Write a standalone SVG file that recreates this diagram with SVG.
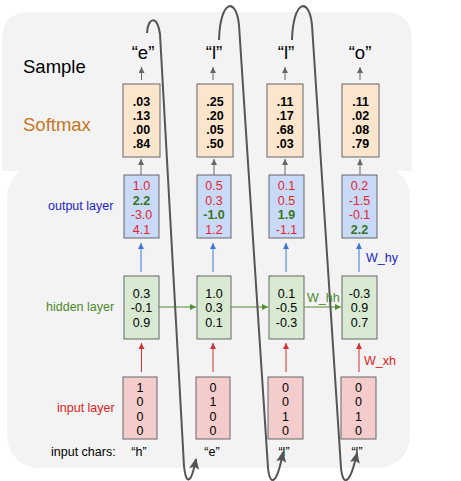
<svg xmlns="http://www.w3.org/2000/svg" width="461" height="481" viewBox="0 0 461 481">
<style>
  .t{font-family:"Liberation Sans",Arial,sans-serif}
  .lbl{font-size:12.5px}
  .big{font-size:18.5px;fill:#000}
  .val{font-size:12.5px;text-anchor:middle;fill:#000}
  .b{font-weight:bold}
  .red{fill:#e3262b}
  .grn{fill:#38761d;font-weight:bold}
  .sm{fill:#fce5cd;stroke:#666;stroke-width:1}
  .out{fill:#c9daf8;stroke:#666;stroke-width:1}
  .hid{fill:#d9ead3;stroke:#666;stroke-width:1}
  .inp{fill:#f4cccc;stroke:#666;stroke-width:1}
  .ga{stroke:#666;stroke-width:1;fill:none;marker-end:url(#mg)}
  .ba{stroke:#3c78d8;stroke-width:1;fill:none;marker-end:url(#mb)}
  .gr{stroke:#4e8f32;stroke-width:1;fill:none;marker-end:url(#mgr)}
  .ra{stroke:#d43333;stroke-width:1;fill:none;marker-end:url(#mr)}
  .loop{stroke:#555;stroke-width:2;fill:none;marker-end:url(#ml)}
</style>
<defs>
  <marker id="mg" markerWidth="8" markerHeight="8" refX="6" refY="3" orient="auto" markerUnits="userSpaceOnUse"><path d="M0,0 L6,3 L0,6 z" fill="#666"/></marker>
  <marker id="mb" markerWidth="8" markerHeight="8" refX="6" refY="3" orient="auto" markerUnits="userSpaceOnUse"><path d="M0,0 L6,3 L0,6 z" fill="#3c78d8"/></marker>
  <marker id="mgr" markerWidth="8" markerHeight="8" refX="6" refY="3" orient="auto" markerUnits="userSpaceOnUse"><path d="M0,0 L6,3 L0,6 z" fill="#4e8f32"/></marker>
  <marker id="mr" markerWidth="8" markerHeight="8" refX="6" refY="3" orient="auto" markerUnits="userSpaceOnUse"><path d="M0,0 L6,3 L0,6 z" fill="#d43333"/></marker>
  <marker id="ml" markerWidth="14" markerHeight="12" refX="10" refY="5" orient="auto" markerUnits="userSpaceOnUse"><path d="M0,0 L11,5 L0,10 L2,5 z" fill="#555"/></marker>
</defs>

<g id="background">
  <path d="M2,40 Q2,12 30,12 L384,12 Q412,12 412,40 L412,171 L2,171 z" fill="#f3f3f3"/>
  <rect x="7" y="165" width="403" height="303" rx="32" fill="#f3f3f3"/>
</g>

<g id="row-labels" class="t">
  <text x="23" y="73" class="big">Sample</text>
  <text x="23" y="131" class="big" style="fill:#c5761f">Softmax</text>
  <text x="48" y="210" class="lbl" fill="#2222cc">output layer</text>
  <text x="46" y="311" class="lbl" fill="#4b8b2b">hidden layer</text>
  <text x="57" y="412" class="lbl" fill="#e02222">input layer</text>
  <text x="51" y="456" class="lbl" fill="#000">input chars:</text>
</g>

<g id="samples" class="t" font-size="18.5" text-anchor="middle">
  <text x="143" y="59">“e”</text>
  <text x="214" y="59">“l”</text>
  <text x="286" y="59">“l”</text>
  <text x="360" y="59">“o”</text>
</g>

<g id="input-chars" class="t" font-size="12.5" text-anchor="middle">
  <text x="139" y="456">“h”</text>
  <text x="212" y="456">“e”</text>
  <text x="284" y="456">“l”</text>
  <text x="357" y="456">“l”</text>
</g>

<g id="softmax-1" class="t"><rect class="sm" x="123" y="84" width="37" height="73"/>
  <text class="val b" x="141.5" y="106">.03</text><text class="val b" x="141.5" y="120">.13</text><text class="val b" x="141.5" y="134">.00</text><text class="val b" x="141.5" y="148">.84</text></g>
<g id="softmax-2" class="t"><rect class="sm" x="197" y="84" width="36" height="73"/>
  <text class="val b" x="215" y="106">.25</text><text class="val b" x="215" y="120">.20</text><text class="val b" x="215" y="134">.05</text><text class="val b" x="215" y="148">.50</text></g>
<g id="softmax-3" class="t"><rect class="sm" x="267" y="84" width="36" height="73"/>
  <text class="val b" x="285" y="106">.11</text><text class="val b" x="285" y="120">.17</text><text class="val b" x="285" y="134">.68</text><text class="val b" x="285" y="148">.03</text></g>
<g id="softmax-4" class="t"><rect class="sm" x="342" y="84" width="37" height="73"/>
  <text class="val b" x="360.5" y="106">.11</text><text class="val b" x="360.5" y="120">.02</text><text class="val b" x="360.5" y="134">.08</text><text class="val b" x="360.5" y="148">.79</text></g>

<g id="output-1" class="t"><rect class="out" x="124" y="175" width="35" height="63"/>
  <text class="val red" x="141.5" y="190">1.0</text><text class="val grn" x="141.5" y="205">2.2</text><text class="val red" x="141.5" y="219">-3.0</text><text class="val red" x="141.5" y="234">4.1</text></g>
<g id="output-2" class="t"><rect class="out" x="197" y="175" width="34" height="63"/>
  <text class="val red" x="214" y="190">0.5</text><text class="val red" x="214" y="205">0.3</text><text class="val grn" x="214" y="219">-1.0</text><text class="val red" x="214" y="234">1.2</text></g>
<g id="output-3" class="t"><rect class="out" x="269" y="175" width="35" height="63"/>
  <text class="val red" x="286.5" y="190">0.1</text><text class="val red" x="286.5" y="205">0.5</text><text class="val grn" x="286.5" y="219">1.9</text><text class="val red" x="286.5" y="234">-1.1</text></g>
<g id="output-4" class="t"><rect class="out" x="342" y="175" width="35" height="63"/>
  <text class="val red" x="359.5" y="190">0.2</text><text class="val red" x="359.5" y="205">-1.5</text><text class="val red" x="359.5" y="219">-0.1</text><text class="val grn" x="359.5" y="234">2.2</text></g>

<g id="hidden-1" class="t"><rect class="hid" x="124" y="276" width="35" height="63"/>
  <text class="val" x="141.5" y="298">0.3</text><text class="val" x="141.5" y="312">-0.1</text><text class="val" x="141.5" y="327">0.9</text></g>
<g id="hidden-2" class="t"><rect class="hid" x="197" y="276" width="34" height="63"/>
  <text class="val" x="214" y="298">1.0</text><text class="val" x="214" y="312">0.3</text><text class="val" x="214" y="327">0.1</text></g>
<g id="hidden-3" class="t"><rect class="hid" x="269" y="276" width="35" height="63"/>
  <text class="val" x="286.5" y="298">0.1</text><text class="val" x="286.5" y="312">-0.5</text><text class="val" x="286.5" y="327">-0.3</text></g>
<g id="hidden-4" class="t"><rect class="hid" x="342" y="276" width="35" height="63"/>
  <text class="val" x="359.5" y="298">-0.3</text><text class="val" x="359.5" y="312">0.9</text><text class="val" x="359.5" y="327">0.7</text></g>

<g id="input-1" class="t"><rect class="inp" x="123" y="377" width="34" height="62"/>
  <text class="val" x="140" y="392">1</text><text class="val" x="140" y="406">0</text><text class="val" x="140" y="421">0</text><text class="val" x="140" y="435">0</text></g>
<g id="input-2" class="t"><rect class="inp" x="196" y="377" width="34" height="62"/>
  <text class="val" x="213" y="392">0</text><text class="val" x="213" y="406">1</text><text class="val" x="213" y="421">0</text><text class="val" x="213" y="435">0</text></g>
<g id="input-3" class="t"><rect class="inp" x="268" y="377" width="35" height="62"/>
  <text class="val" x="285.5" y="392">0</text><text class="val" x="285.5" y="406">0</text><text class="val" x="285.5" y="421">1</text><text class="val" x="285.5" y="435">0</text></g>
<g id="input-4" class="t"><rect class="inp" x="341" y="377" width="35" height="62"/>
  <text class="val" x="358.5" y="392">0</text><text class="val" x="358.5" y="406">0</text><text class="val" x="358.5" y="421">1</text><text class="val" x="358.5" y="435">0</text></g>

<g id="connectors">
  <line class="ga" x1="141.5" y1="80" x2="141.5" y2="67"/>
  <line class="ga" x1="213" y1="80" x2="213" y2="67"/>
  <line class="ga" x1="285" y1="80" x2="285" y2="67"/>
  <line class="ga" x1="360" y1="80" x2="360" y2="67"/>
  <line class="ga" x1="141" y1="175" x2="141" y2="159"/>
  <line class="ga" x1="214" y1="175" x2="214" y2="159"/>
  <line class="ga" x1="285" y1="175" x2="285" y2="159"/>
  <line class="ga" x1="360" y1="175" x2="360" y2="159"/>
  <line class="ba" x1="141" y1="272" x2="141" y2="243"/>
  <line class="ba" x1="213" y1="272" x2="213" y2="243"/>
  <line class="ba" x1="286" y1="272" x2="286" y2="243"/>
  <line class="ba" x1="359" y1="272" x2="359" y2="243"/>
  <line class="gr" x1="159" y1="307" x2="196" y2="307"/>
  <line class="gr" x1="231" y1="307" x2="268" y2="307"/>
  <line class="gr" x1="304" y1="307" x2="341" y2="307"/>
  <line class="ra" x1="141.5" y1="372" x2="141.5" y2="343"/>
  <line class="ra" x1="213" y1="372" x2="213" y2="343"/>
  <line class="ra" x1="286" y1="372" x2="286" y2="343"/>
  <line class="ra" x1="359" y1="372" x2="359" y2="343"/>
  <path class="loop" d="M147,33 C148,17 157,15 160,34 L184,466 C186,485 191,485 196,459"/>
  <path class="loop" d="M219,40 C220,0 236,-4 239,25 L268,468 C270,487 277,485 283,452"/>
  <path class="loop" d="M292,40 C293,0 309,-4 312,25 L341,468 C343,487 350,485 357,453"/>
</g>

<g id="weight-labels" class="t" font-size="12.5">
  <text x="366" y="262" fill="#2222cc">W_hy</text>
  <text x="307" y="302" fill="#4b8b2b">W_hh</text>
  <text x="364" y="365" fill="#e02222">W_xh</text>
</g>
</svg>
